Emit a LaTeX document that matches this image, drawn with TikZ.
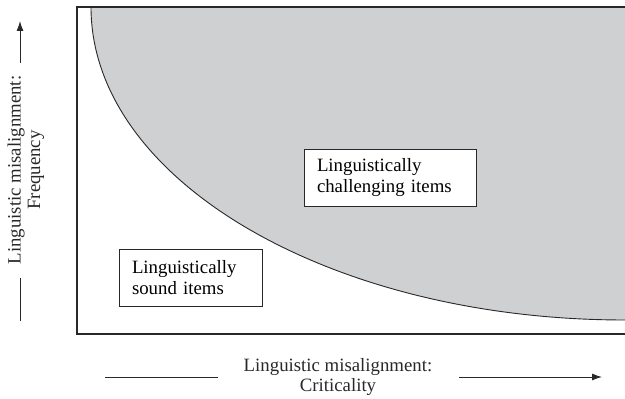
\documentclass[tikz,border=0pt]{standalone}
\usepackage{fontspec}
\setmainfont{Liberation Serif}
\usetikzlibrary{arrows.meta}
\definecolor{zonegray}{RGB}{207,208,210}
\definecolor{inkgray}{RGB}{40,40,40}
\begin{document}
\begin{tikzpicture}[x=1pt, y=1pt, line width=1pt, draw=inkgray,
	item node/.style={rectangle,draw=inkgray,fill=white,line width=0.9pt,align=left,
		inner xsep=13pt,minimum height=57pt,font=\fontsize{18.8}{20.5}\selectfont},
	axis label/.style={align=center,text=inkgray,font=\fontsize{18.8}{19.5}\selectfont},
	axis line/.style={draw=inkgray,line width=0.9pt}]
	
	\useasboundingbox (0,0) rectangle (625,399);
	
	% challenging zone
	\fill[zonegray] (630,392) -- (91,392) arc[start angle=180,end angle=270,x radius=534,y radius=313] -- (630,79) -- cycle;
	\draw[line width=0.9pt] (91,392) arc[start angle=180,end angle=270,x radius=534,y radius=313] -- (630,79);
	\draw[line width=1.4pt] (77,65) rectangle (632,392);
	
	\node[item node,text width=146pt] (hard) at (390,221.5) {Linguistically\\challenging items};
	\node[item node,text width=117pt] (easy) at (190.5,121.5) {Linguistically\\sound items};
	
	\node[axis label,rotate=90] (freq) at (26,229) {Linguistic misalignment:\\Frequency};
	\node[axis label] (crit) at (338,22) {Linguistic misalignment:\\Criticality};
	
	\coordinate (f1) at (20,78);
	\coordinate (f2) at (20,121);
	\coordinate (f3) at (20,336);
	\coordinate (f4) at (20,378);
	\coordinate (c1) at (105,22);
	\coordinate (c2) at (218,22);
	\coordinate (c3) at (459,22);
	\coordinate (c4) at (602,22);
	
	\draw[axis line] (f1) -- (f2);
	\draw[axis line,-{Latex[length=10pt,width=7pt]}] (f3) -- (f4);
	\draw[axis line] (c1) -- (c2);
	\draw[axis line,-{Latex[length=10pt,width=7pt]}] (c3) -- (c4);
\end{tikzpicture}
\end{document}
